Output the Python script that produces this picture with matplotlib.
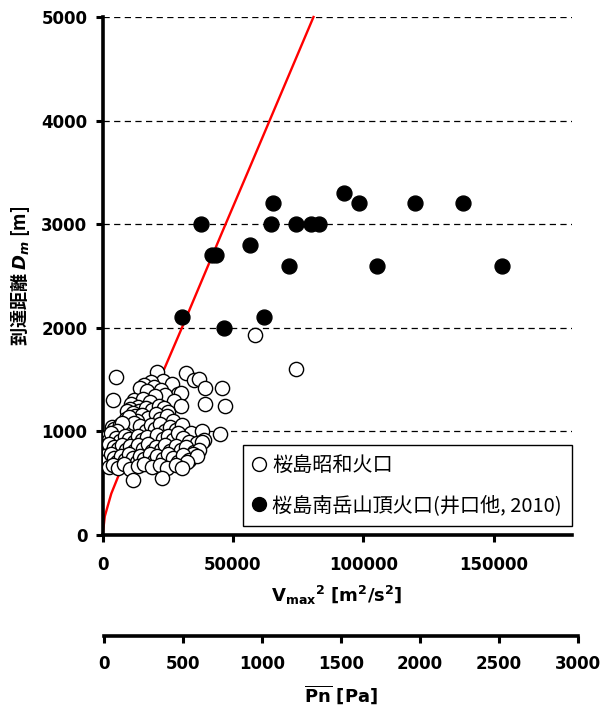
import matplotlib
matplotlib.use("Agg")
import matplotlib.pyplot as plt
from matplotlib.lines import Line2D

plt.rcParams['font.family'] = ['DejaVu Sans', 'Noto Sans CJK JP']
plt.rcParams['mathtext.fontset'] = 'dejavusans'

# ---- data ----
# Sakurajima Showa crater (open circles): V_max^2 [m2/s2], D_m [m]
showa_v2 = [5100, 4000, 20900, 32000, 35000, 36800, 23000, 18500, 16000,
            19500, 26500, 39100, 45800, 14500, 22500, 17000,
            29000, 30100, 24000, 20000, 12000, 27500, 15500, 18000,
            11000, 13500, 10500, 14000, 16500, 19000, 21500, 23500, 25000, 30000, 39300, 47000, 9500,
            11500, 12500, 15000, 17500, 20500, 22000, 24500, 27000, 13000, 9000, 10000,
            3500, 4500, 6500, 8000, 10500, 12000, 14500, 16500, 18500, 20000, 22000, 24000, 26000, 28000, 30500, 34000, 38000, 45100, 7500, 5500,
            1500, 2500, 3000, 5000, 6500, 8500, 10000, 12000, 13500, 15000, 17000, 19500, 21000, 23000, 25000, 27000, 29000, 31000, 33000, 36000, 39000, 38000,
            500, 1500, 2500, 3500, 4500, 6000, 7500, 9000, 10500, 12000, 13500, 15500, 17500, 19000, 20500, 22500, 24000, 26000, 28000, 30000, 32000, 35000, 37000, 34500,
            1000, 2000, 3000, 4500, 5500, 7000, 8500, 10000, 11500, 13000, 14500, 16000, 18000, 19500, 21000, 23000, 25000, 27000, 29000, 31000, 33000, 36000, 32500,
            2500, 4000, 6000, 8000, 10500, 13500, 16000, 19000, 22000, 24500, 28000, 30500,
            11800, 22800, 58600, 74000]
showa_D = [1525, 1300, 1575, 1560, 1500, 1505, 1490, 1480, 1450,
           1430, 1460, 1420, 1420, 1420, 1400, 1390,
           1360, 1370, 1350, 1340, 1300, 1290, 1310, 1280,
           1260, 1240, 1220, 1200, 1230, 1210, 1250, 1230, 1190, 1250, 1260, 1250, 1200,
           1180, 1150, 1160, 1130, 1170, 1120, 1150, 1100, 1100, 1120, 1140,
           1040, 1020, 1060, 1010, 1030, 1080, 1050, 1000, 1060, 1020, 1070, 1000, 1040, 1010, 1060, 980, 1000, 975, 1080, 1000,
           950, 920, 980, 940, 910, 960, 930, 900, 960, 920, 950, 900, 970, 930, 960, 920, 980, 940, 900, 890, 920, 900,
           860, 820, 880, 800, 850, 830, 870, 820, 860, 810, 870, 830, 880, 810, 850, 820, 870, 810, 860, 820, 850, 800, 820, 780,
           760, 720, 780, 740, 700, 760, 720, 780, 740, 700, 760, 730, 780, 710, 760, 730, 780, 740, 700, 770, 720, 760, 700,
           660, 680, 650, 690, 640, 670, 690, 660, 680, 650, 680, 650,
           530, 550, 1930, 1605]

# Sakurajima Minamidake summit crater (Iguchi et al., 2010): filled circles
minami_v2 = [30500, 37800, 41900, 43600, 46400, 56650, 61800, 64700, 65400, 71400,
             74000, 80000, 82900, 92550, 98450, 105100, 119850, 138300, 153100]
minami_D = [2100, 3000, 2700, 2700, 2000, 2800, 2100, 3000, 3200, 2600,
            3000, 3000, 3000, 3300, 3200, 2600, 3200, 3200, 2600]

# model curve (red)
curve_v2 = [0, 800, 3300, 6500, 10000, 17000, 24000, 30400, 45800, 55800, 80900]
curve_D = [0, 180, 400, 600, 805, 1215, 1625, 2000, 2920, 3510, 5000]

y_ticks = [0, 1000, 2000, 3000, 4000, 5000]
x_ticks = [0, 50000, 100000, 150000]
pn_ticks = [0, 500, 1000, 1500, 2000, 2500, 3000]

legend_labels = ['桜島昭和火口', '桜島南岳山頂火口(井口他, 2010)']

# ---- figure ----
fig = plt.figure(figsize=(6.03, 7.08), dpi=100)
ax = fig.add_axes([102.7/603, (708-535)/708, (571.7-102.7)/603, (535-17)/708])

ax.set_xlim(0, 180000)
ax.set_ylim(0, 5000)
for y in y_ticks[1:]:
    ax.axhline(y, color='black', lw=0.9, ls=(0, (5, 3.5)), zorder=1)

ax.plot(curve_v2, curve_D, color='#ff0000', lw=1.7, zorder=2, clip_on=False)
ax.scatter(showa_v2, showa_D, s=105, facecolor='white', edgecolor='black', linewidth=1.0, zorder=3)
ax.scatter(minami_v2, minami_D, s=115, facecolor='black', edgecolor='black', linewidth=1.0, zorder=4)

for s in ['top', 'right']:
    ax.spines[s].set_visible(False)
for s in ['left', 'bottom']:
    ax.spines[s].set_linewidth(2.6)
ax.set_xticks(x_ticks)
ax.set_yticks(y_ticks)
ax.set_xticklabels([str(v) for v in x_ticks])
ax.set_yticklabels([str(v) for v in y_ticks])
ax.tick_params(axis='both', direction='out', length=5, width=2.2, labelsize=12)
ax.tick_params(axis='y', pad=6)
ax.tick_params(axis='x', pad=10)
for lab in ax.get_xticklabels() + ax.get_yticklabels():
    lab.set_fontweight('bold')

ax.set_xlabel(r'$\mathbf{V_{max}{}^{2}\ [m^{2}/s^{2}]}$', fontsize=13, labelpad=7)
ax.set_ylabel(r'到達距離 $\mathbfit{D_m}$ [m]', fontsize=13, fontweight='bold',
              family=['Noto Sans CJK JP', 'DejaVu Sans'], labelpad=7)

handles = [Line2D([], [], ls='none', marker='o', ms=10, mfc='white', mec='black', mew=1.0),
           Line2D([], [], ls='none', marker='o', ms=10, mfc='black', mec='black', mew=1.0)]
leg = ax.legend(handles, legend_labels, loc='upper left',
                bbox_to_anchor=(243/603, (708-445)/708), bbox_transform=fig.transFigure,
                prop={'family': ['Noto Sans CJK JP', 'DejaVu Sans'], 'size': 14.5},
                frameon=True, fancybox=False, framealpha=1, edgecolor='black',
                handlelength=0.6, handletextpad=0.35, labelspacing=0.95, borderpad=0.5,
                borderaxespad=0)
leg.get_frame().set_linewidth(1.0)

# secondary axis Pn
ax2 = fig.add_axes([104/603, (708-636)/708, (577.7-104)/603, 0.0001])
ax2.set_xlim(0, 3000)
ax2.set_yticks([])
for s in ['top', 'right', 'left']:
    ax2.spines[s].set_visible(False)
ax2.spines['bottom'].set_linewidth(2.6)
ax2.patch.set_visible(False)
ax2.set_xticks(pn_ticks)
ax2.set_xticklabels([str(v) for v in pn_ticks])
ax2.tick_params(axis='x', direction='out', length=5, width=2.2, labelsize=12, pad=9)
for lab in ax2.get_xticklabels():
    lab.set_fontweight('bold')
ax2.set_xlabel(r'$\overline{\mathbf{Pn}}\ \mathbf{[Pa]}$', fontsize=13, labelpad=7)

fig.savefig('out.png', dpi=100)
